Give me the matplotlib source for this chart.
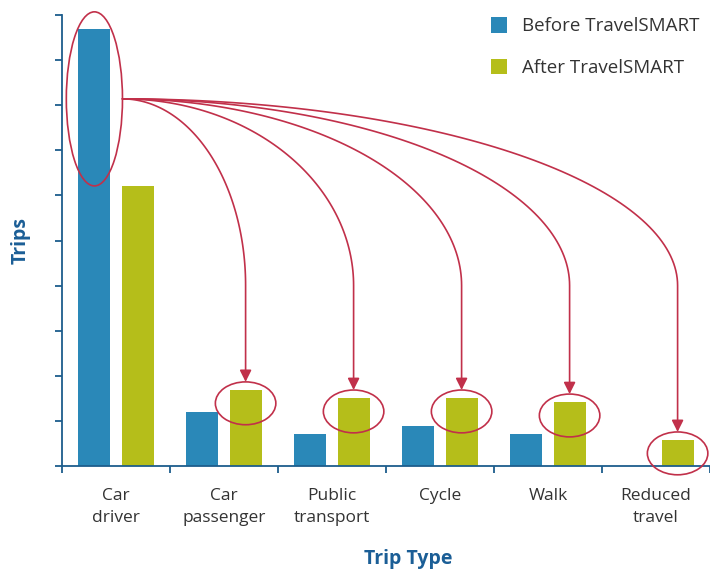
import numpy as np
import matplotlib
matplotlib.use('Agg')
import matplotlib.pyplot as plt
from matplotlib.patches import Ellipse, FancyArrowPatch
from matplotlib.path import Path

# data (y axis has no labels, units are tick steps)
categories = ['Car\ndriver', 'Car\npassenger', 'Public\ntransport', 'Cycle', 'Walk', 'Reduced\ntravel']
before = [9.7, 1.2, 0.71, 0.89, 0.71, 0.0]
after = [6.2, 1.69, 1.51, 1.51, 1.42, 0.58]
series_names = ['Before TravelSMART', 'After TravelSMART']

blue = '#2a88b8'
green = '#b5be1a'
red = '#c1304a'
axis_col = '#1d5d8c'
label_col = '#1b5e96'
text_col = '#333333'

plt.rcParams['font.family'] = ['Open Sans', 'DejaVu Sans']

fig = plt.figure(figsize=(7.1, 5.71), dpi=100)
ax = fig.add_axes([62 / 710, 105 / 571, 648 / 710, 451 / 571])

x = np.arange(len(categories))
w = 0.296
b1 = ax.bar(x - 0.2, before, w, color=blue, label=series_names[0], zorder=2)
b2 = ax.bar(x + 0.2, after, w, color=green, label=series_names[1], zorder=2)

ax.set_xlim(-0.5, len(categories) - 0.5)
ax.set_ylim(0, 10)

# axes styling
for s in ['top', 'right']:
    ax.spines[s].set_visible(False)
for s in ['left', 'bottom']:
    ax.spines[s].set_color(axis_col)
    ax.spines[s].set_linewidth(1.3)
ax.set_yticks(np.arange(0, 11))
ax.set_yticklabels([])
ax.tick_params(axis='y', direction='out', length=5, width=1.3, color=axis_col)
ax.set_xticks(np.arange(-0.5, len(categories)))
ax.set_xticklabels([])
ax.tick_params(axis='x', which='major', direction='out', length=5, width=1.3, color=axis_col)
ax.set_xticks(x, minor=True)
ax.set_xticklabels(categories, minor=True, fontsize=12.5, color=text_col, linespacing=1.5)
ax.tick_params(axis='x', which='minor', length=0, pad=16)

ax.set_ylabel('Trips', fontsize=14, fontweight='bold', color=label_col, labelpad=14)
ax.set_xlabel('Trip Type', fontsize=14, fontweight='bold', color=label_col)
ax.xaxis.set_label_coords((408 - 62) / 648, -0.183)

# big ellipse around the car driver bar
big_w, big_h = 0.52, 3.86
big_cx, big_cy = x[0] - 0.2, 8.14
ax.add_patch(Ellipse((big_cx, big_cy), big_w, big_h, fill=False, edgecolor=red,
                     linewidth=1.2, clip_on=False, zorder=3))

# small ellipses + curved arrows to each other "after" bar
sm_w, sm_h = 0.56, 0.95
x0, y0 = big_cx + big_w / 2, big_cy
y_turn = 4.0
t = np.linspace(0, np.pi / 2, 80)
for i in range(1, len(categories)):
    cx = x[i] + 0.2
    cy = after[i] - 0.3
    ax.add_patch(Ellipse((cx, cy), sm_w, sm_h, fill=False, edgecolor=red,
                         linewidth=1.2, clip_on=False, zorder=3))
    a = cx - x0
    bb = y0 - y_turn
    xs = x0 + a * np.sin(t)
    ys = y_turn + bb * np.cos(t)
    tip = cy + sm_h / 2
    verts = list(zip(xs, ys)) + [(cx, tip)]
    codes = [Path.MOVETO] + [Path.LINETO] * (len(verts) - 1)
    arr = FancyArrowPatch(path=Path(verts, codes),
                          arrowstyle='-|>,head_length=0.7,head_width=0.35',
                          mutation_scale=10, color=red, linewidth=1.2,
                          shrinkA=0, shrinkB=0, clip_on=False, zorder=3)
    ax.add_patch(arr)

leg = ax.legend(handles=[b1, b2], loc='upper left', bbox_to_anchor=(421 / 648, 1.012),
                frameon=False, fontsize=13.5, handlelength=0.9, handleheight=0.9,
                handletextpad=0.8, labelspacing=1.25, borderaxespad=0)
for txt in leg.get_texts():
    txt.set_color(text_col)

fig.savefig('out.png', dpi=100)
